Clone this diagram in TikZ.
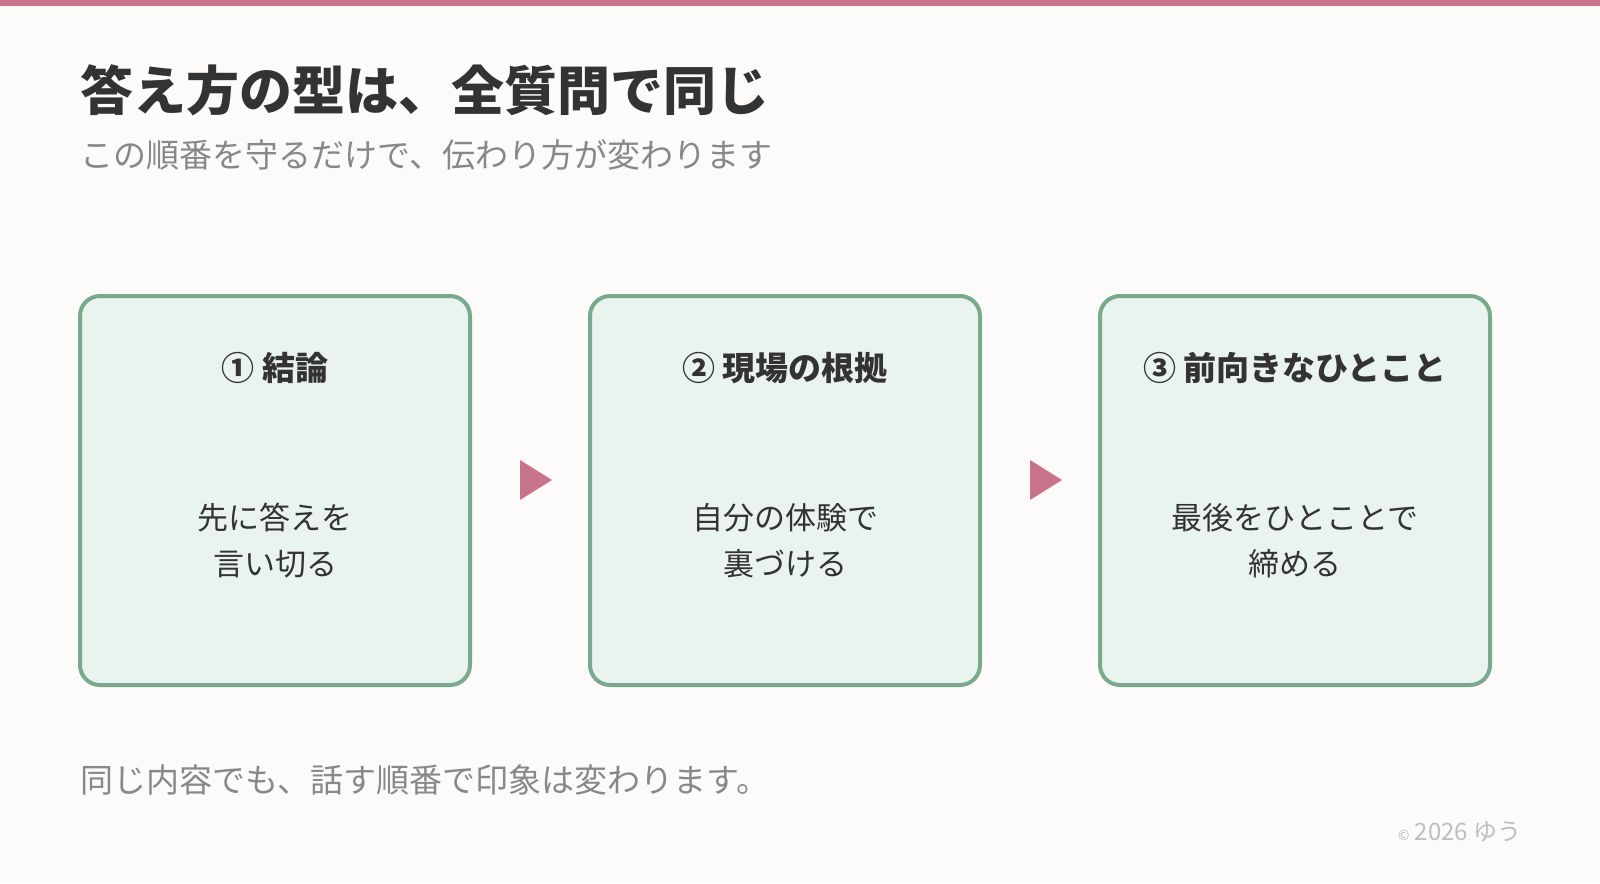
\documentclass[tikz,border=0pt]{standalone}
\usepackage{fontspec}
\setmainfont{Noto Sans CJK JP}
\definecolor{bgcol}{RGB}{253,251,249}
\definecolor{barpink}{RGB}{200,115,140}
\definecolor{boxgreen}{RGB}{122,170,140}
\definecolor{boxfill}{RGB}{234,244,238}
\definecolor{inkdark}{RGB}{51,51,51}
\definecolor{inkgray}{RGB}{136,136,136}
\definecolor{inklight}{RGB}{190,190,190}
\tikzset{
  step box/.style={draw=boxgreen,fill=boxfill,line width=2pt,rounded corners=10pt},
  step title/.style={font=\fontsize{16.5}{20}\selectfont\bfseries,text=inkdark},
  step body/.style={font=\fontsize{15.5}{23}\selectfont,text=inkdark,align=center},
}
\begin{document}
\begin{tikzpicture}[x=0.5pt,y=0.5pt,yscale=-1,xscale=1]
%set diagram size 1600 x 883
\fill[bgcol] (0,0) rectangle (1600,883);
\useasboundingbox (0,0) rectangle (1600,883);

%Shape: top bar
\fill[barpink] (0,0) rectangle (1600,6);

% Text Node
\draw (80,90) node[anchor=west,inner sep=0pt,font=\fontsize{26.5}{30}\selectfont\bfseries,text=inkdark] (title) {答え方の型は、全質問で同じ};
% Text Node
\draw (80,155) node[anchor=west,inner sep=0pt,font=\fontsize{16.5}{20}\selectfont,text=inkgray] (subtitle) {この順番を守るだけで、伝わり方が変わります};

%Shape: Rounded Rectangle
\draw[step box] (80,296) rectangle (470,685);
%Shape: Rounded Rectangle
\draw[step box] (590,296) rectangle (980,685);
%Shape: Rounded Rectangle
\draw[step box] (1100,296) rectangle (1490,685);

% Text Node
\draw (275,368) node[step title] (head1) {① 結論};
% Text Node
\draw (785,368) node[step title] (head2) {② 現場の根拠};
% Text Node
\draw (1295,368) node[step title] (head3) {③ 前向きなひとこと};

% Text Node
\draw (275,541) node[step body] (body1) {先に答えを\\言い切る};
% Text Node
\draw (785,541) node[step body] (body2) {自分の体験で\\裏づける};
% Text Node
\draw (1295,541) node[step body] (body3) {最後をひとことで\\締める};

%Shape: Triangle
\fill[barpink] (520,460) -- (552,480) -- (520,500) -- cycle;
%Shape: Triangle
\fill[barpink] (1030,460) -- (1062,480) -- (1030,500) -- cycle;

% Text Node
\draw (80,780) node[anchor=west,inner sep=0pt,font=\fontsize{16.5}{20}\selectfont,text=inkgray] (footer) {同じ内容でも、話す順番で印象は変わります。};
% Text Node
\draw (1522,832) node[anchor=east,inner sep=0pt,font=\fontsize{12}{14}\selectfont,text=inklight] (credit) {{\fontsize{7}{8}\selectfont ©} 2026 ゆう};

\end{tikzpicture}
\end{document}
